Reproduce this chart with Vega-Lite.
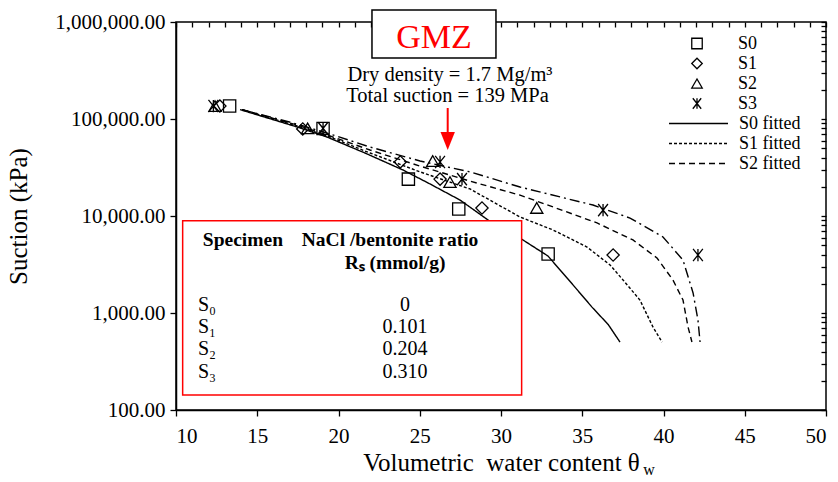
{
  "$schema": "https://vega.github.io/schema/vega-lite/v6.json",
  "width": 650,
  "height": 388,
  "autosize": {"type": "none"},
  "padding": {"left": 176, "top": 22, "right": 12, "bottom": 72},
  "background": "white",
  "config": {
    "view": {"stroke": "black", "strokeWidth": 1.5},
    "font": "Liberation Serif",
    "axis": {
      "domainColor": "black", "domainWidth": 1.5, "tickColor": "black", "tickWidth": 1.3,
      "labelColor": "black", "titleColor": "black", "grid": false,
      "labelFont": "Liberation Serif", "titleFont": "Liberation Serif",
      "labelFontSize": 21, "titleFontSize": 25, "titleFontWeight": "normal"
    },
    "legend": {"labelFont": "Liberation Serif", "labelColor": "black"}
  },
  "datasets": {
    "pts": [
      {"series": "S0", "x": 13.3, "y": 136000},
      {"series": "S0", "x": 19.05, "y": 80000},
      {"series": "S0", "x": 24.3, "y": 24000},
      {"series": "S0", "x": 27.4, "y": 11800},
      {"series": "S0", "x": 32.9, "y": 4050},
      {"series": "S1", "x": 12.7, "y": 136000},
      {"series": "S1", "x": 17.8, "y": 79000},
      {"series": "S1", "x": 23.8, "y": 36100},
      {"series": "S1", "x": 26.25, "y": 24000},
      {"series": "S1", "x": 28.83, "y": 12100},
      {"series": "S1", "x": 36.9, "y": 3960},
      {"series": "S2", "x": 12.4, "y": 136000},
      {"series": "S2", "x": 18.1, "y": 80000},
      {"series": "S2", "x": 25.8, "y": 36900},
      {"series": "S2", "x": 26.86, "y": 22400},
      {"series": "S2", "x": 32.2, "y": 12100},
      {"series": "S3", "x": 12.3, "y": 136000},
      {"series": "S3", "x": 19.05, "y": 80000},
      {"series": "S3", "x": 26.25, "y": 36100},
      {"series": "S3", "x": 27.6, "y": 24000},
      {"series": "S3", "x": 36.28, "y": 11500},
      {"series": "S3", "x": 42.12, "y": 3960}
    ],
    "fit": [
      {"series": "S0 fitted", "x": 13.94, "y": 125000},
      {"series": "S0 fitted", "x": 17.45, "y": 82800},
      {"series": "S0 fitted", "x": 19.29, "y": 65200},
      {"series": "S0 fitted", "x": 21.63, "y": 44600},
      {"series": "S0 fitted", "x": 23.97, "y": 29800},
      {"series": "S0 fitted", "x": 25.63, "y": 21400},
      {"series": "S0 fitted", "x": 27.48, "y": 14600},
      {"series": "S0 fitted", "x": 29.2, "y": 9100},
      {"series": "S0 fitted", "x": 31.35, "y": 5660},
      {"series": "S0 fitted", "x": 32.89, "y": 3870},
      {"series": "S0 fitted", "x": 34.43, "y": 1950},
      {"series": "S0 fitted", "x": 35.6, "y": 1150},
      {"series": "S0 fitted", "x": 36.6, "y": 760},
      {"series": "S0 fitted", "x": 37.32, "y": 502},
      {"series": "S1 fitted", "x": 14.06, "y": 125000},
      {"series": "S1 fitted", "x": 17.45, "y": 84700},
      {"series": "S1 fitted", "x": 19.48, "y": 65200},
      {"series": "S1 fitted", "x": 21.94, "y": 44600},
      {"series": "S1 fitted", "x": 25.02, "y": 28500},
      {"series": "S1 fitted", "x": 28.09, "y": 19000},
      {"series": "S1 fitted", "x": 31.17, "y": 9770},
      {"series": "S1 fitted", "x": 33.2, "y": 7180},
      {"series": "S1 fitted", "x": 35.29, "y": 4790},
      {"series": "S1 fitted", "x": 36.71, "y": 3130},
      {"series": "S1 fitted", "x": 37.51, "y": 2190},
      {"series": "S1 fitted", "x": 38.55, "y": 1360},
      {"series": "S1 fitted", "x": 39.35, "y": 718},
      {"series": "S1 fitted", "x": 39.91, "y": 502},
      {"series": "S2 fitted", "x": 14.06, "y": 125000},
      {"series": "S2 fitted", "x": 17.45, "y": 86700},
      {"series": "S2 fitted", "x": 19.48, "y": 66800},
      {"series": "S2 fitted", "x": 21.94, "y": 47900},
      {"series": "S2 fitted", "x": 25.02, "y": 32700},
      {"series": "S2 fitted", "x": 28.09, "y": 22900},
      {"series": "S2 fitted", "x": 31.17, "y": 16400},
      {"series": "S2 fitted", "x": 33.2, "y": 12400},
      {"series": "S2 fitted", "x": 35.91, "y": 8480},
      {"series": "S2 fitted", "x": 38.12, "y": 5660},
      {"series": "S2 fitted", "x": 39.6, "y": 3690},
      {"series": "S2 fitted", "x": 40.58, "y": 2190},
      {"series": "S2 fitted", "x": 41.2, "y": 1360},
      {"series": "S2 fitted", "x": 41.51, "y": 718},
      {"series": "S2 fitted", "x": 41.75, "y": 502},
      {"series": "S3 fitted", "x": 14.06, "y": 125000},
      {"series": "S3 fitted", "x": 17.45, "y": 88700},
      {"series": "S3 fitted", "x": 19.48, "y": 70000},
      {"series": "S3 fitted", "x": 21.94, "y": 51400},
      {"series": "S3 fitted", "x": 25.02, "y": 36900},
      {"series": "S3 fitted", "x": 28.09, "y": 28500},
      {"series": "S3 fitted", "x": 31.17, "y": 19900},
      {"series": "S3 fitted", "x": 35.66, "y": 12970},
      {"series": "S3 fitted", "x": 37.94, "y": 9520},
      {"series": "S3 fitted", "x": 39.97, "y": 6080},
      {"series": "S3 fitted", "x": 41.2, "y": 3510},
      {"series": "S3 fitted", "x": 41.82, "y": 1610},
      {"series": "S3 fitted", "x": 42.12, "y": 847},
      {"series": "S3 fitted", "x": 42.25, "y": 502}
    ]
  },
  "encoding": {
    "x": {"field": "x", "type": "quantitative", "scale": {"domain": [10, 50], "nice": false, "zero": false}, "axis": null},
    "y": {"field": "y", "type": "quantitative", "scale": {"type": "log", "domain": [100, 1000000], "nice": false}, "axis": null}
  },
  "layer": [
    {
      "data": {"name": "fit"},
      "mark": {"type": "line", "color": "black", "strokeWidth": 1.4},
      "encoding": {
        "x": {"field": "x", "type": "quantitative", "scale": {"domain": [10, 50], "nice": false, "zero": false},
          "axis": {"values": [10, 15, 20, 25, 30, 35, 40, 45, 50], "tickSize": 6, "labelPadding": 9,
            "labelFont": "Liberation Serif", "titleFont": "Liberation Serif",
            "title": "Volumetric\u00a0 water content θ", "titlePadding": 4}},
        "y": {"field": "y", "type": "quantitative", "scale": {"type": "log", "domain": [100, 1000000], "nice": false},
          "axis": {"values": [100, 1000, 10000, 100000, 1000000], "format": ",.2f", "tickSize": 6, "labelPadding": 5,
            "labelFont": "Liberation Serif", "titleFont": "Liberation Serif",
            "title": "Suction (kPa)", "titlePadding": 23}},
        "strokeDash": {"field": "series", "type": "nominal",
          "scale": {"domain": ["S0 fitted", "S1 fitted", "S2 fitted", "S3 fitted"], "range": [[1, 0], [3, 2], [6, 4], [10, 4, 2, 4]]},
          "legend": {"orient": "none", "legendX": 492, "legendY": 92, "title": null, "values": ["S0 fitted", "S1 fitted", "S2 fitted"],
            "symbolType": "stroke", "symbolSize": 3481, "symbolStrokeWidth": 1.4, "symbolStrokeColor": "black", "clipHeight": 19,
            "labelFontSize": 18, "labelOffset": 10, "rowPadding": 1, "padding": 0}}
      }
    },
    {
      "data": {"name": "pts"},
      "mark": {"type": "point", "filled": false, "color": "black", "strokeWidth": 1.3, "size": 150, "opacity": 1},
      "encoding": {
        "x": {"field": "x", "type": "quantitative", "scale": {"domain": [10, 50], "nice": false, "zero": false},
          "axis": {"values": [10,11,12,13,14,15,16,17,18,19,20,21,22,23,24,25,26,27,28,29,30,31,32,33,34,35,36,37,38,39,40,41,42,43,44,45,46,47,48,49,50],
            "tickSize": -5, "labels": false, "domain": false, "title": null}},
        "y": {"field": "y", "type": "quantitative", "scale": {"type": "log", "domain": [100, 1000000], "nice": false},
          "axis": {"values": [100,200,300,400,500,600,700,800,900,1000,2000,3000,4000,5000,6000,7000,8000,9000,10000,20000,30000,40000,50000,60000,70000,80000,90000,100000,200000,300000,400000,500000,600000,700000,800000,900000,1000000],
            "tickSize": -5, "labels": false, "domain": false, "title": null}},
        "shape": {"field": "series", "type": "nominal",
          "scale": {"domain": ["S0", "S1", "S2", "S3"], "range": ["square", "diamond", "triangle-up", "M-0.8,-1L0.8,1M-0.8,1L0.8,-1M0,-1L0,1"]},
          "legend": {"orient": "none", "legendX": 512, "legendY": 12.5, "title": null,
            "symbolSize": 110, "symbolStrokeWidth": 1.3, "symbolStrokeColor": "black",
            "labelFontSize": 18, "labelOffset": 32, "rowPadding": 2, "padding": 0}}
      }
    },
    {
      "data": {"values": [{"x": 10.41, "x2": 31.27, "y": 8930, "y2": 143}]},
      "mark": {"type": "rect", "fill": "white", "stroke": "#ff0000", "strokeWidth": 1.5},
      "encoding": {"x2": {"field": "x2"}, "y2": {"field": "y2"}}
    },
    {
      "data": {"values": [
        {"t": "Specimen", "x": 14.12, "y": 5660},
        {"t": "NaCl /bentonite ratio", "x": 23.17, "y": 5660},
        {"t": "Rₛ (mmol/g)", "x": 23.48, "y": 3270}
      ]},
      "mark": {"type": "text", "fontSize": 19.5, "fontWeight": "bold", "align": "center", "baseline": "middle", "color": "black"},
      "encoding": {"text": {"field": "t"}}
    },
    {
      "data": {"values": [
        {"t": "S₀", "x": 11.35, "y": 1209},
        {"t": "S₁", "x": 11.35, "y": 718},
        {"t": "S₂", "x": 11.35, "y": 426},
        {"t": "S₃", "x": 11.35, "y": 247}
      ]},
      "mark": {"type": "text", "fontSize": 20, "align": "left", "baseline": "middle", "color": "black"},
      "encoding": {"text": {"field": "t"}}
    },
    {
      "data": {"values": [
        {"t": "0", "x": 24.09, "y": 1209},
        {"t": "0.101", "x": 24.09, "y": 718},
        {"t": "0.204", "x": 24.09, "y": 426},
        {"t": "0.310", "x": 24.09, "y": 247}
      ]},
      "mark": {"type": "text", "fontSize": 20, "align": "center", "baseline": "middle", "color": "black"},
      "encoding": {"text": {"field": "t"}}
    },
    {
      "data": {"values": [{"x": 22.06, "x2": 29.69, "y": 1330000, "y2": 425500}]},
      "mark": {"type": "rect", "fill": "white", "stroke": "black", "strokeWidth": 1.5},
      "encoding": {"x2": {"field": "x2"}, "y2": {"field": "y2"}}
    },
    {
      "data": {"values": [{"t": "GMZ", "x": 25.88, "y": 539600}]},
      "mark": {"type": "text", "fontSize": 34, "align": "center", "baseline": "alphabetic", "color": "#ff0000"},
      "encoding": {"text": {"field": "t"}}
    },
    {
      "data": {"values": [
        {"t": "Dry density = 1.7 Mg/m³", "x": 26.86, "y": 246700},
        {"t": "Total suction = 139 MPa", "x": 26.71, "y": 149700}
      ]},
      "mark": {"type": "text", "fontSize": 20.5, "align": "center", "baseline": "alphabetic", "color": "black"},
      "encoding": {"text": {"field": "t"}}
    },
    {
      "data": {"values": [{"x": 26.72, "y": 129800, "y2": 62000}]},
      "mark": {"type": "rule", "color": "#ff0000", "strokeWidth": 2},
      "encoding": {"y2": {"field": "y2"}}
    },
    {
      "data": {"values": [{"x": 26.72, "y": 59300}]},
      "mark": {"type": "point", "filled": true, "color": "#ff0000", "opacity": 1, "size": 324, "shape": "M-0.8,-1L0.8,-1L0,1Z"},
      "encoding": {}
    },
    {
      "data": {"values": [{"t": "w", "x": 38.75, "y": 24}]},
      "mark": {"type": "text", "fontSize": 16, "align": "left", "baseline": "middle", "color": "black"},
      "encoding": {"text": {"field": "t"}}
    }
  ],
  "resolve": {"axis": {"x": "independent", "y": "independent"}}
}
